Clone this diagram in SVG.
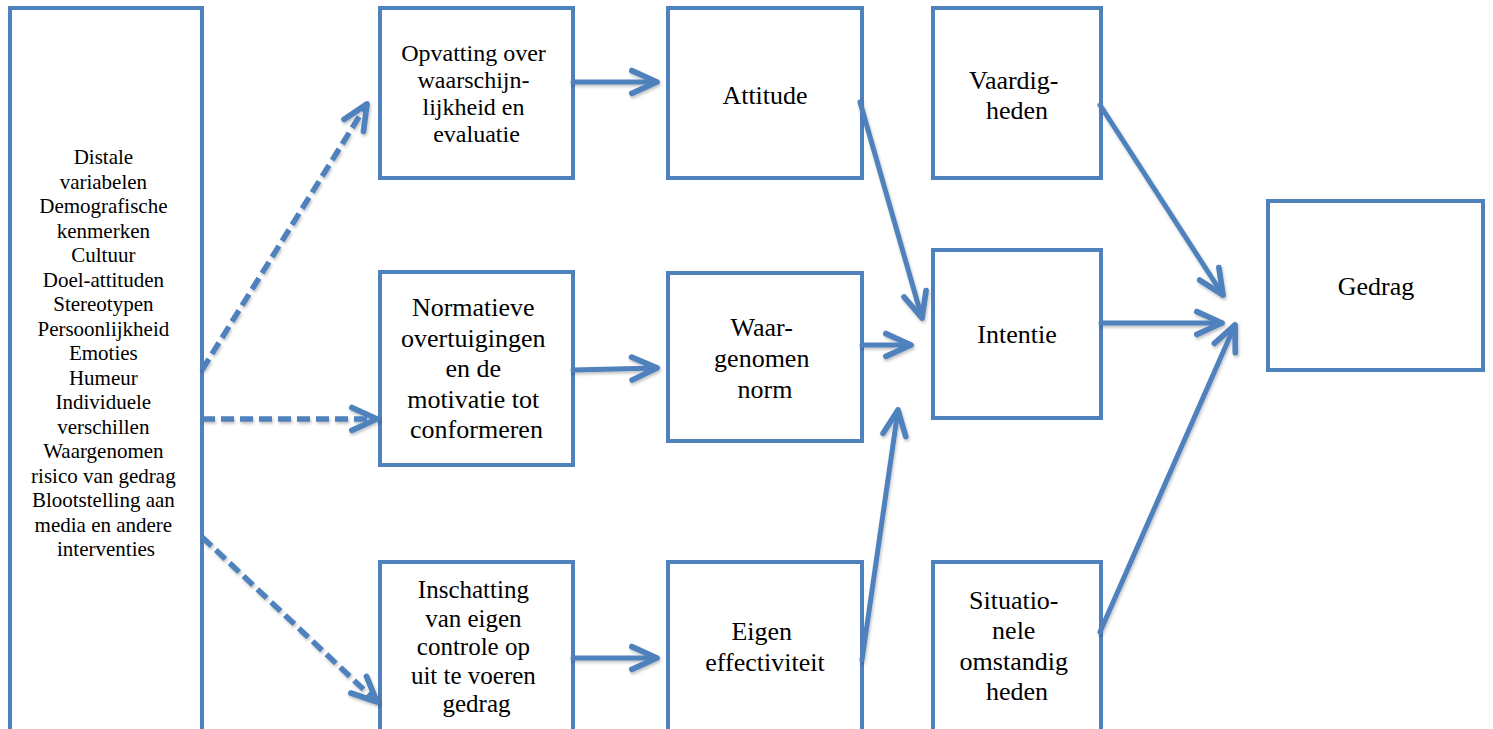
<svg xmlns="http://www.w3.org/2000/svg" width="1493" height="729" viewBox="0 0 1493 729">
<style>
.box{fill:#fff;stroke:#4F81BD;stroke-width:4}
.t{font-family:'Liberation Serif','Times New Roman',serif;fill:#000;text-anchor:middle}
.s21{font-size:21px}.s24{font-size:24px}.s25{font-size:25px}.s26{font-size:26px}
.c{fill:none;stroke:#4F81BD;stroke-width:5;stroke-linecap:round;marker-end:url(#ah)}
.d{stroke-dasharray:13 6;stroke-linecap:butt;stroke-width:5.5}
</style>
<defs>
<marker id="ah" markerUnits="userSpaceOnUse" orient="auto" refX="0" refY="0" markerWidth="40" markerHeight="40" viewBox="-30 -15 35 30" overflow="visible">
<path d="M-22,-10 L0,0 L-22,10" fill="none" stroke="#4F81BD" stroke-width="5" stroke-linecap="round" stroke-linejoin="round"/>
</marker>
<filter id="sh" x="-10%" y="-10%" width="120%" height="120%">
<feDropShadow dx="1" dy="2" stdDeviation="1.5" flood-color="#000" flood-opacity="0.25"/>
</filter>
</defs>
<rect width="1493" height="729" fill="#fff"/>

<g id="distale">
<rect class="box" x="10" y="8" width="192" height="730"/>
<text class="t s21">
<tspan x="106" y="164">Distale</tspan>
<tspan x="106" y="188.5">variabelen</tspan>
<tspan x="106" y="213">Demografische</tspan>
<tspan x="106" y="237.5">kenmerken</tspan>
<tspan x="106" y="262">Cultuur</tspan>
<tspan x="106" y="286.5">Doel-attituden</tspan>
<tspan x="106" y="311">Stereotypen</tspan>
<tspan x="106" y="335.5">Persoonlijkheid</tspan>
<tspan x="106" y="360">Emoties</tspan>
<tspan x="106" y="384.5">Humeur</tspan>
<tspan x="106" y="409">Individuele</tspan>
<tspan x="106" y="433.5">verschillen</tspan>
<tspan x="106" y="458">Waargenomen</tspan>
<tspan x="106" y="482.5">risico van gedrag</tspan>
<tspan x="106" y="507">Blootstelling aan</tspan>
<tspan x="106" y="531.5">media en andere</tspan>
<tspan x="106" y="556">interventies</tspan>
</text>
</g>

<g id="opvatting">
<rect class="box" x="380" y="8" width="193" height="170"/>
<text class="t s24">
<tspan x="476.5" y="61">Opvatting over</tspan>
<tspan x="476.5" y="88">waarschijn-</tspan>
<tspan x="476.5" y="115">lijkheid en</tspan>
<tspan x="476.5" y="142">evaluatie</tspan>
</text>
</g>

<g id="normatieve">
<rect class="box" x="380" y="272" width="193" height="193"/>
<text class="t s26">
<tspan x="476.5" y="316">Normatieve</tspan>
<tspan x="476.5" y="346.5">overtuigingen</tspan>
<tspan x="476.5" y="377">en de</tspan>
<tspan x="476.5" y="407.5">motivatie tot</tspan>
<tspan x="476.5" y="438">conformeren</tspan>
</text>
</g>

<g id="inschatting">
<rect class="box" x="380" y="562" width="193" height="180"/>
<text class="t s25">
<tspan x="476.5" y="598">Inschatting</tspan>
<tspan x="476.5" y="626.5">van eigen</tspan>
<tspan x="476.5" y="655">controle op</tspan>
<tspan x="476.5" y="683.5">uit te voeren</tspan>
<tspan x="476.5" y="712">gedrag</tspan>
</text>
</g>

<g id="attitude">
<rect class="box" x="668" y="8" width="194" height="170"/>
<text class="t s26" x="765" y="104">Attitude</text>
</g>

<g id="norm">
<rect class="box" x="668" y="273" width="194" height="168"/>
<text class="t s26">
<tspan x="765" y="336">Waar-</tspan>
<tspan x="765" y="367">genomen</tspan>
<tspan x="765" y="398">norm</tspan>
</text>
</g>

<g id="eigen">
<rect class="box" x="668" y="562" width="194" height="180"/>
<text class="t s26">
<tspan x="765" y="640">Eigen</tspan>
<tspan x="765" y="671">effectiviteit</tspan>
</text>
</g>

<g id="vaardigheden">
<rect class="box" x="933" y="8" width="168" height="170"/>
<text class="t s26">
<tspan x="1017" y="89">Vaardig-</tspan>
<tspan x="1017" y="119">heden</tspan>
</text>
</g>

<g id="intentie">
<rect class="box" x="933" y="250" width="168" height="168"/>
<text class="t s26" x="1017" y="343">Intentie</text>
</g>

<g id="situationele">
<rect class="box" x="933" y="562" width="168" height="180"/>
<text class="t s26">
<tspan x="1017" y="609">Situatio-</tspan>
<tspan x="1017" y="639">nele</tspan>
<tspan x="1017" y="670">omstandig</tspan>
<tspan x="1017" y="700">heden</tspan>
</text>
</g>

<g id="gedrag">
<rect class="box" x="1268" y="201" width="215" height="169"/>
<text class="t s26" x="1376" y="295">Gedrag</text>
</g>

<g id="connectors" filter="url(#sh)">
<path class="c d" d="M202,370 L367,104"/>
<path class="c d" d="M202,419 L377,419"/>
<path class="c d" d="M202,537 L377,702"/>
<path class="c" d="M573,82 L657,82"/>
<path class="c" d="M573,370 L657,368"/>
<path class="c" d="M573,658 L657,658"/>
<path class="c" d="M860,102 L922,318"/>
<path class="c" d="M862,345 L911,345"/>
<path class="c" d="M862,660 L898,410"/>
<path class="c" d="M1100,105 L1223,295"/>
<path class="c" d="M1101,323 L1222,323"/>
<path class="c" d="M1100,632 L1235,325"/>
</g>
</svg>
